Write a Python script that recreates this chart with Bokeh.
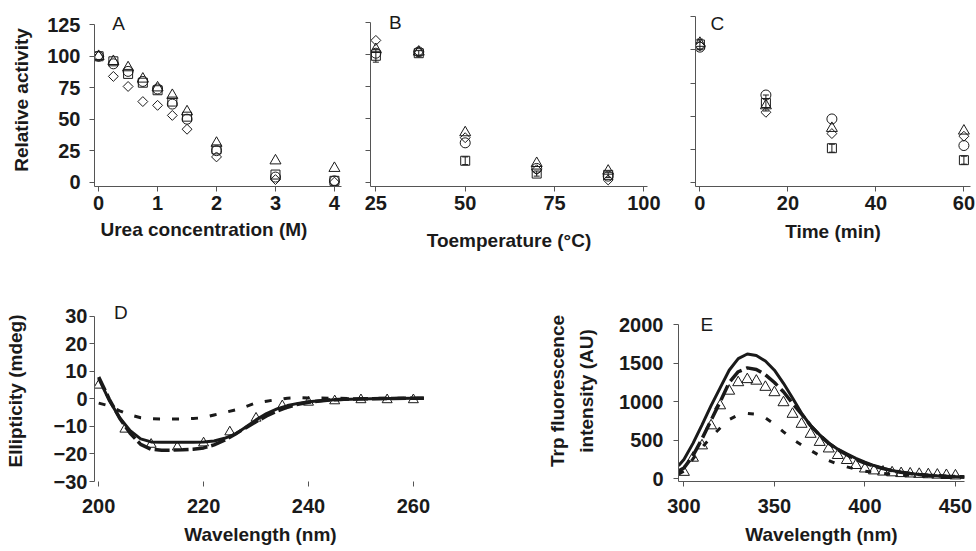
from math import pi
from bokeh.plotting import figure
from bokeh.models import Range1d, FixedTicker, Label, Whisker, ColumnDataSource, TeeHead, Title
from bokeh.layouts import row, column
from bokeh.embed import file_html
from bokeh.resources import INLINE

# ---------------- data ----------------
# A: urea
urea_m = [0, 0.25, 0.5, 0.75, 1, 1.25, 1.5, 2, 3, 4]
urea_diamond = [100, 84, 76, 64, 61, 53, 42, 20, 2, 0]
urea_square = [100, 96, 86, 79, 73, 64, 52, 26, 6, 1]
urea_triangle = [100, 96, 91, 82, 75, 69, 56, 31, 17, 11]
urea_circle = [100, 94, 88, 80, 74, 62, 50, 25, 4, 1]
urea_ticks = [0, 1, 2, 3, 4]

# B: temperature
temp_c = [25, 37, 50, 70, 90]
temp_diamond = [111, 102, 35, 10, 2]
temp_square = [99, 101, 17, 7, 6]
temp_square_err = [5, 2, 3, 2, 2]
temp_triangle = [104, 102, 39, 15, 9]
temp_circle = [101, 102, 31, 11, 5]
temp_ticks = [25, 50, 75, 100]

# C: time
time_min = [0, 15, 30, 60]
time_diamond = [103, 53, 37, 35]
time_square = [104, 60, 26, 17]
time_square_err = [4, 6, 3, 3]
time_triangle = [105, 58, 41, 39]
time_circle = [102, 66, 48, 28]
time_ticks = [0, 20, 40, 60]

act_ticks = [0, 25, 50, 75, 100, 125]

# D: CD spectra
cd_wl = [200, 202, 204, 206, 208, 210, 212, 214, 216, 218, 220, 222, 224, 226,
         228, 230, 232, 234, 236, 238, 240, 244, 248, 252, 256, 260, 262]
cd_solid = [7.5, -0.5, -6.8, -11.5, -14.5, -15.6, -15.7, -15.7, -15.7, -15.7, -15.6, -15.3, -14.3, -12.8,
            -10.3, -7.6, -5.3, -3.6, -2.4, -1.6, -1.0, -0.4, -0.1, 0.1, 0.2, 0.3, 0.3]
cd_dash = [8.0, 0.0, -7.0, -12.5, -16.5, -18.3, -18.6, -18.6, -18.5, -18.3, -17.8, -16.7, -15.0, -12.8,
           -10.5, -8.3, -6.2, -4.4, -3.0, -1.9, -1.2, -0.4, 0.0, 0.1, 0.2, 0.3, 0.3]
cd_dot = [-1.5, -2.5, -4.3, -5.8, -6.8, -7.2, -7.3, -7.3, -7.3, -7.1, -6.8, -5.8, -4.9, -4.0,
          -2.8, -1.4, -0.8, -0.2, 0.3, 0.5, 0.4, 0.3, 0.2, 0.2, 0.3, 0.3, 0.3]
cd_tri_wl = [200, 205, 210, 215, 220, 225, 230, 235, 240, 245, 250, 255, 260]
cd_tri = [5, -11, -16.5, -17.5, -16, -12, -7, -2.5, -1.2, -0.7, -0.3, -0.3, -0.3]
cd_xticks = [200, 220, 240, 260]
cd_yticks = [-30, -20, -10, 0, 10, 20, 30]

# E: Trp fluorescence
fl_wl = [297, 300, 305, 310, 315, 320, 325, 330, 335, 340, 345, 350, 355, 360, 365, 370, 375,
         380, 385, 390, 395, 400, 405, 410, 415, 420, 425, 430, 435, 440, 445, 450, 455]
fl_solid = [170, 250, 460, 700, 950, 1180, 1410, 1560, 1620, 1600, 1530, 1410, 1240, 1050, 850, 690, 570,
            465, 385, 325, 265, 215, 172, 137, 108, 86, 70, 57, 47, 40, 34, 29, 25]
fl_dash = [100, 140, 300, 520, 760, 1000, 1250, 1390, 1440, 1420, 1350, 1250, 1130, 980, 840, 690, 565,
           460, 378, 312, 252, 203, 165, 132, 106, 86, 70, 57, 47, 40, 34, 29, 25]
fl_dot = [60, 100, 260, 410, 540, 660, 770, 830, 850, 840, 790, 710, 610, 515, 440, 368, 300,
          238, 190, 155, 125, 100, 85, 70, 60, 52, 45, 40, 35, 30, 27, 25, 22]
fl_tri_wl = [300, 305, 310, 315, 320, 325, 330, 335, 340, 345, 350, 355, 360, 365, 370, 375,
             380, 385, 390, 395, 400, 405, 410, 415, 420, 425, 430, 435, 440, 445, 450]
fl_tri = [86, 270, 430, 690, 950, 1140, 1250, 1290, 1270, 1190, 1120, 990, 840, 710, 580, 475,
          390, 305, 240, 175, 130, 105, 90, 80, 70, 65, 60, 55, 50, 45, 40]
fl_xticks = [300, 350, 400, 450]
fl_yticks = [0, 500, 1000, 1500, 2000]

# ---------------- style ----------------
FONT = "Liberation Sans"
INK = "#1a1a1a"
AXC = "#555555"


def make_fig(w, h, xr, yr, mbl, mbr, mbt, mbb):
    p = figure(width=w, height=h, x_range=Range1d(*xr), y_range=Range1d(*yr),
               output_backend="svg", toolbar_location=None,
               min_border_left=mbl, min_border_right=mbr,
               min_border_top=mbt, min_border_bottom=mbb)
    p.grid.visible = False
    p.outline_line_color = None
    for ax in p.axis:
        ax.axis_line_color = AXC
        ax.axis_line_width = 1
        ax.major_tick_line_color = AXC
        ax.major_tick_in = 0
        ax.major_tick_out = 5
        ax.minor_tick_line_color = None
        ax.major_label_text_font = FONT
        ax.major_label_text_font_style = "bold"
        ax.major_label_text_font_size = "20px"
        ax.major_label_text_color = INK
        ax.axis_label_text_font = FONT
        ax.axis_label_text_font_style = "bold"
        ax.axis_label_text_font_size = "19px"
        ax.axis_label_text_color = INK
    return p


def add_markers(p, x, yd, ys, yt, yc):
    p.scatter(x, yd, marker="square", angle=pi / 4, size=7, fill_color=None,
              line_color=INK, line_width=1)
    p.scatter(x, ys, marker="square", size=9, fill_color=None, line_color=INK, line_width=1)
    p.scatter(x, yt, marker="triangle", size=11, fill_color=None, line_color=INK, line_width=1)
    p.scatter(x, yc, marker="circle", size=10, fill_color=None, line_color=INK, line_width=1)


def add_err(p, x, y, e):
    src = ColumnDataSource(dict(x=x, lo=[a - b for a, b in zip(y, e)], hi=[a + b for a, b in zip(y, e)]))
    p.add_layout(Whisker(source=src, base="x", lower="lo", upper="hi", line_color=INK, line_width=1,
                         upper_head=TeeHead(size=6, line_color=INK, line_width=1),
                         lower_head=TeeHead(size=6, line_color=INK, line_width=1)))


def letter(p, x, y, t):
    p.add_layout(Label(x=x, y=y, text=t, text_font=FONT, text_font_size="19px",
                       text_color=INK, text_baseline="middle", text_align="left"))


# ---- A ----
pA = make_fig(355, 290, (-0.07, 4.12), (-3.5, 134), 94, 14, 13, 104)
pA.xaxis.ticker = FixedTicker(ticks=urea_ticks)
pA.yaxis.ticker = FixedTicker(ticks=act_ticks)
pA.yaxis.bounds = (-3.5, 125)
pA.yaxis.axis_label = "Relative activity"
pA.xaxis.major_label_standoff = 4
pA.yaxis.major_label_standoff = 9
pA.yaxis.axis_label_standoff = 12
pA.add_layout(Title(text="Urea concentration (M)", align="left", offset=6, standoff=9,
                    text_font=FONT, text_font_size="19px", text_font_style="bold",
                    text_color=INK), "below")
add_markers(pA, urea_m, urea_diamond, urea_square, urea_triangle, urea_circle)
letter(pA, 0.23, 125.8, "A")

# ---- B ----
pB = make_fig(325, 290, (23.5, 101), (-3.1, 132), 15, 33, 13, 104)
pB.xaxis.ticker = FixedTicker(ticks=temp_ticks)
pB.yaxis.ticker = FixedTicker(ticks=act_ticks)
pB.yaxis.major_label_overrides = {t: "" for t in act_ticks}
pB.yaxis.bounds = (-3.1, 125)
pB.xaxis.axis_label = "Toemperature (°C)"
pB.xaxis.major_label_standoff = 4
pB.xaxis.axis_label_standoff = 17
add_err(pB, temp_c, temp_square, temp_square_err)
add_markers(pB, temp_c, temp_diamond, temp_square, temp_triangle, temp_circle)
letter(pB, 28.7, 124.6, "B")

# ---- C ----
pC = make_fig(296, 290, (-1, 61.5), (-2.8, 127.3), 15, 6, 13, 104)
pC.xaxis.ticker = FixedTicker(ticks=time_ticks)
pC.yaxis.ticker = FixedTicker(ticks=act_ticks)
pC.yaxis.major_label_overrides = {t: "" for t in act_ticks}
pC.yaxis.bounds = (-2.8, 125)
pC.xaxis.axis_label = "Time (min)"
pC.xaxis.major_label_standoff = 4
pC.xaxis.axis_label_standoff = 8
add_err(pC, time_min, time_square, time_square_err)
add_markers(pC, time_min, time_diamond, time_square, time_triangle, time_circle)
letter(pC, 2.4, 119.9, "C")

# ---- D ----
pD = make_fig(540, 260, (199.2, 262.5), (-30, 35.8), 94, 114, 10, 69)
pD.yaxis.ticker = FixedTicker(ticks=cd_yticks)
pD.yaxis.major_label_overrides = {t: ("\u2212" + str(-t) if t < 0 else str(t)) for t in cd_yticks}
pD.yaxis.bounds = (-30, 30)
pD.xaxis.ticker = FixedTicker(ticks=cd_xticks)
pD.xaxis.bounds = (199.2, 260)
pD.xaxis.axis_line_color = None
pD.xaxis.axis_label = "Wavelength (nm)"
pD.yaxis.axis_label = "Ellipticity (mdeg)"
pD.xaxis.major_label_standoff = 12
pD.xaxis.axis_label_standoff = 8
pD.yaxis.major_label_standoff = 2
pD.yaxis.axis_label_standoff = 25
pD.line(cd_wl, cd_dot, line_color=INK, line_width=3, line_dash="7 12")
pD.line(cd_wl, cd_dash, line_color=INK, line_width=3.5, line_dash="15 4")
pD.line(cd_wl, cd_solid, line_color=INK, line_width=3)
pD.scatter(cd_tri_wl, cd_tri, marker="triangle", size=10, fill_color=None, line_color=INK, line_width=1)
letter(pD, 202.9, 31.4, "D")

# ---- E ----
pE = make_fig(436, 260, (297, 455), (-35, 2315), 138, 12, 10, 69)
pE.yaxis.ticker = FixedTicker(ticks=fl_yticks)
pE.yaxis.bounds = (-35, 2000)
pE.xaxis.ticker = FixedTicker(ticks=fl_xticks)
pE.xaxis.axis_label = "Wavelength (nm)"
pE.yaxis.axis_label = "Trp fluorescence\nintensity (AU)"
pE.yaxis.axis_label_text_line_height = 1.4
pE.xaxis.major_label_standoff = 12
pE.xaxis.axis_label_standoff = 8
pE.yaxis.major_label_standoff = 10
pE.yaxis.axis_label_standoff = 19
pE.line(fl_wl, fl_dot, line_color=INK, line_width=3, line_dash="6 13")
pE.line(fl_wl, fl_dash, line_color=INK, line_width=3.5, line_dash="16 5")
pE.line(fl_wl, fl_solid, line_color=INK, line_width=3)
pE.scatter(fl_tri_wl, fl_tri, marker="triangle", size=11, fill_color=None, line_color=INK, line_width=1)
letter(pE, 309.2, 2004, "E")

layout = column(row(pA, pB, pC), row(pD, pE))
open("out.html", "w").write(file_html(layout, INLINE))
